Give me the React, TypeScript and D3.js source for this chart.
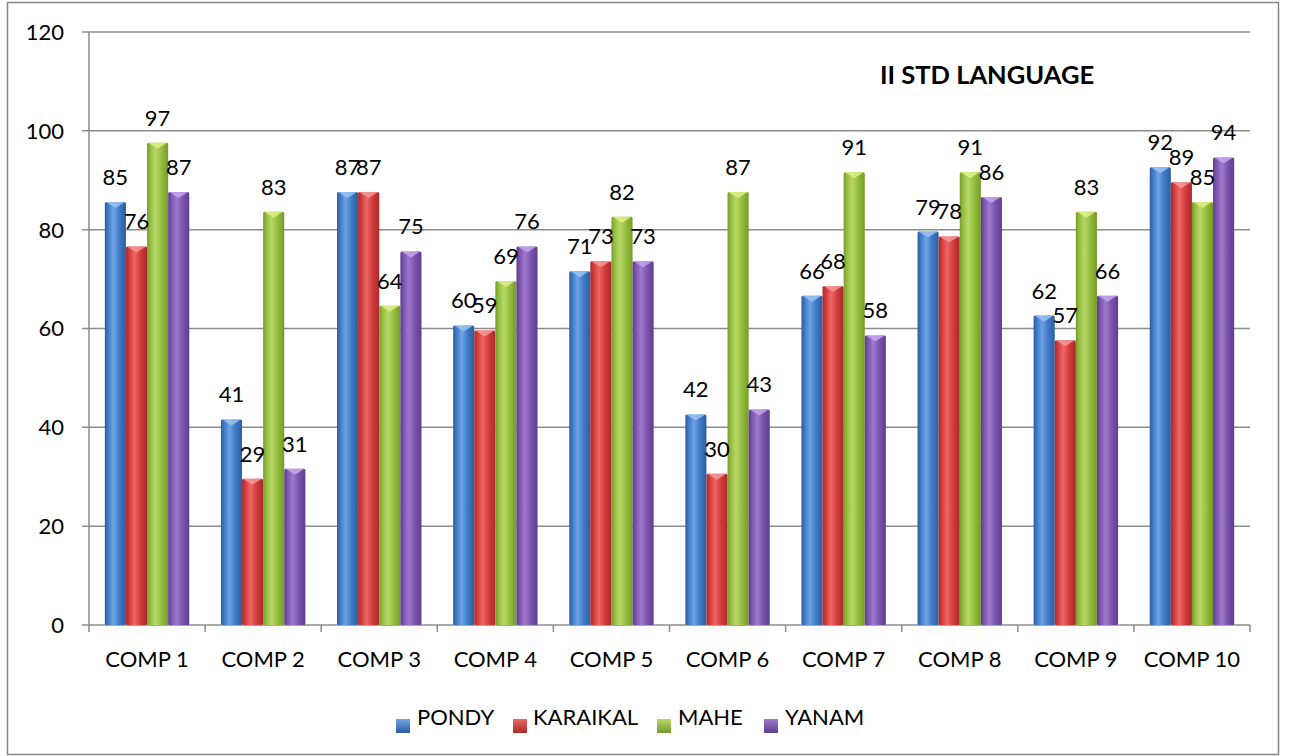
import React from "react";
import * as d3 from "d3";

const categories = ["COMP 1", "COMP 2", "COMP 3", "COMP 4", "COMP 5", "COMP 6", "COMP 7", "COMP 8", "COMP 9", "COMP 10"];
const seriesNames = ["PONDY", "KARAIKAL", "MAHE", "YANAM"];
const pondy = [85, 41, 87, 60, 71, 42, 66, 79, 62, 92];
const karaikal = [76, 29, 87, 59, 73, 30, 68, 78, 57, 89];
const mahe = [97, 83, 64, 69, 82, 87, 91, 91, 83, 85];
const yanam = [87, 31, 75, 76, 73, 43, 58, 86, 66, 94];
const yTicks = [0, 20, 40, 60, 80, 100, 120];
const title = "II STD LANGUAGE";

const seriesValues = [pondy, karaikal, mahe, yanam];
const colors = [
  { base: "#3F78C4", light: "#6EA4E6", dark: "#2B5E9E", top: "#9CC6F4" },
  { base: "#D03A3A", light: "#EE6766", dark: "#A82A2A", top: "#F59C9C" },
  { base: "#93BD3C", light: "#B8D86A", dark: "#76992C", top: "#E2F08A" },
  { base: "#7B52AE", light: "#9E7ACB", dark: "#5F3E8C", top: "#C7A9EE" },
];

const FONT = "Lato, 'Open Sans', sans-serif";

export default function App() {
  const W = 1290, H = 756;
  const left = 89, right = 1250, top = 32, bottom = 625;
  const x = d3.scaleBand<string>().domain(categories).range([left, right]).paddingInner(0).paddingOuter(0);
  const y = d3.scaleLinear().domain([0, 120]).range([bottom, top]);
  const bw = x.bandwidth();
  const barW = bw / (seriesNames.length + 1.5);
  const groupOffset = (bw - barW * seriesNames.length) / 2;
  const xs = d3.scaleBand<number>().domain(d3.range(seriesNames.length)).range([0, barW * seriesNames.length]);
  const cap = 3;

  const legendItems = [
    { mx: 396, tx: 417 },
    { mx: 513, tx: 533 },
    { mx: 657, tx: 678 },
    { mx: 764, tx: 785 },
  ];

  return (
    <svg width={W} height={H} style={{ position: "absolute", left: 0, top: 0 }}>
      <defs>
        {colors.map((c, i) => (
          <linearGradient key={i} id={`g${i}`} x1="0" x2="1" y1="0" y2="0">
            <stop offset="0" stopColor={c.dark} />
            <stop offset="0.15" stopColor={c.base} />
            <stop offset="0.4" stopColor={c.light} />
            <stop offset="0.7" stopColor={c.base} />
            <stop offset="1" stopColor={c.dark} />
          </linearGradient>
        ))}
        {colors.map((c, i) => (
          <linearGradient key={"l" + i} id={`lg${i}`} x1="0" x2="0" y1="0" y2="1">
            <stop offset="0" stopColor={c.light} />
            <stop offset="1" stopColor={c.dark} />
          </linearGradient>
        ))}
      </defs>
      <rect x={0} y={0} width={W} height={H} fill="#fff" />
      <rect x={7.5} y={2.5} width={1271} height={752} fill="#fff" stroke="#868686" strokeWidth={1.5} />

      {/* gridlines */}
      {yTicks.map((t) => (
        <line key={t} x1={left - 7} x2={right} y1={y(t)} y2={y(t)} stroke="#8c8c8c" strokeWidth={1.5} />
      ))}
      {/* y axis */}
      <line x1={left} x2={left} y1={top} y2={bottom} stroke="#8c8c8c" strokeWidth={1.5} />
      {yTicks.map((t) => (
        <text key={"yt" + t} x={64} y={y(t)} dy="0.36em" textAnchor="end" fontFamily={FONT} fontSize={22} fill="#000">
          {t}
        </text>
      ))}
      {/* x ticks */}
      {categories.map((c) => (
        <line key={"xt" + c} x1={x(c)!} x2={x(c)!} y1={bottom} y2={bottom + 7} stroke="#8c8c8c" strokeWidth={1.5} />
      ))}
      <line x1={right} x2={right} y1={bottom} y2={bottom + 7} stroke="#8c8c8c" strokeWidth={1.5} />

      {/* bars */}
      {categories.map((c, ci) =>
        seriesValues.map((vals, si) => {
          const bx = x(c)! + groupOffset + xs(si)!;
          const by = y(vals[ci]) - cap;
          const h = bottom - by;
          return (
            <g key={c + si}>
              <rect x={bx} y={by} width={barW} height={h} rx={1.5} fill={`url(#g${si})`} />
              <path
                d={`M${bx + 1},${by} L${bx + barW - 1},${by} L${bx + barW / 2},${by + 6} Z`}
                fill={colors[si].top}
                opacity={0.8}
              />
            </g>
          );
        })
      )}

      {/* data labels */}
      {categories.map((c, ci) =>
        seriesValues.map((vals, si) => {
          const bx = x(c)! + groupOffset + xs(si)! + barW / 2;
          const by = y(vals[ci]) - cap;
          return (
            <text key={"lab" + c + si} x={bx} y={by - 25} dy="0.36em" textAnchor="middle" fontFamily={FONT} fontSize={22} fill="#000">
              {vals[ci]}
            </text>
          );
        })
      )}

      {/* category labels */}
      {categories.map((c) => (
        <text key={"cl" + c} x={x(c)! + bw / 2} y={667} textAnchor="middle" fontFamily={FONT} fontSize={22} fill="#000">
          {c}
        </text>
      ))}

      {/* title */}
      <text x={987} y={84} textAnchor="middle" fontFamily={FONT} fontWeight="bold" fontSize={25.5} fill="#000">
        {title}
      </text>

      {/* legend */}
      {seriesNames.map((n, i) => (
        <g key={n}>
          <rect x={legendItems[i].mx} y={719} width={14} height={14} fill={`url(#lg${i})`} />
          <text x={legendItems[i].tx} y={725} fontFamily={FONT} fontSize={22} fill="#000">
            {n}
          </text>
        </g>
      ))}
    </svg>
  );
}
